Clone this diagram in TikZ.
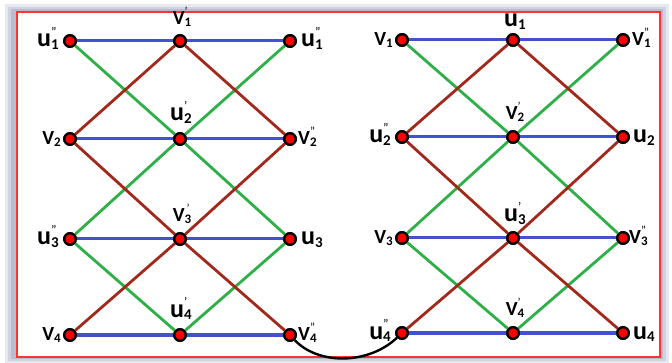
\documentclass[tikz,border=0pt]{standalone}
\usepackage{fontspec}
\setmainfont{Carlito}
\definecolor{eblue}{HTML}{4350D2}
\definecolor{egreen}{HTML}{2EAF48}
\definecolor{ered}{HTML}{A3281C}
\definecolor{shad}{HTML}{A3A9C2}
\newcommand{\ulab}[3]{{\fontsize{26}{26}\selectfont\bfseries #1}\makebox[0pt][l]{\raisebox{-0.45ex}{\fontsize{15}{15}\selectfont\bfseries #2}}\makebox[0pt][l]{\raisebox{2.1ex}{\fontsize{13}{13}\selectfont #3}}\phantom{\fontsize{15}{15}\selectfont\bfseries #2}}
\newcommand{\vlab}[3]{{\fontsize{20}{20}\selectfont\bfseries #1}\makebox[0pt][l]{\raisebox{-0.4ex}{\fontsize{13}{13}\selectfont\bfseries #2}}\makebox[0pt][l]{\raisebox{2.0ex}{\fontsize{12}{12}\selectfont #3}}\phantom{\fontsize{13}{13}\selectfont\bfseries #2}}
\begin{document}
\begin{tikzpicture}[x=1pt,y=-1pt,
  dot/.style={circle,fill=red,draw=black,line width=2.3pt,inner sep=0pt,minimum size=11.5pt},
  bl/.style={eblue,line width=3pt},
  gr/.style={egreen,line width=2.8pt},
  rd/.style={ered,line width=2.8pt},
  lab/.style={inner sep=0pt}]
\useasboundingbox (0,0) rectangle (672,363);
% shadow and frame
\fill[shad,opacity=0.25] (5,4) rectangle (669,363);
\fill[shad,opacity=0.35] (8,7) rectangle (666,361);
\fill[shad,opacity=0.55] (11,9) rectangle (663,359);
\fill[white] (17,12) rectangle (660,357);
\draw[red!80!white,line width=1.5pt] (17,12) rectangle (660,357);
% left graph nodes
\node[dot] (a11) at (70,41) {};
\node[dot] (a12) at (180,41) {};
\node[dot] (a13) at (290,41) {};
\node[dot] (a21) at (70,139) {};
\node[dot] (a22) at (180,139) {};
\node[dot] (a23) at (290,139) {};
\node[dot] (a31) at (70,239) {};
\node[dot] (a32) at (180,239) {};
\node[dot] (a33) at (290,239) {};
\node[dot] (a41) at (70,335) {};
\node[dot] (a42) at (180,335) {};
\node[dot] (a43) at (290,335) {};
% right graph nodes
\node[dot] (b11) at (402,40) {};
\node[dot] (b12) at (513,40) {};
\node[dot] (b13) at (623,40) {};
\node[dot] (b21) at (402,137) {};
\node[dot] (b22) at (513,137) {};
\node[dot] (b23) at (623,137) {};
\node[dot] (b31) at (402,238) {};
\node[dot] (b32) at (513,238) {};
\node[dot] (b33) at (623,238) {};
\node[dot] (b41) at (402,333) {};
\node[dot] (b42) at (513,333) {};
\node[dot] (b43) at (623,333) {};
% edges
\foreach \r in {1,2,3,4}{
  \draw[bl] (a\r1) -- (a\r2) -- (a\r3);
  \draw[bl] (b\r1) -- (b\r2) -- (b\r3);
}
\draw[gr] (a11) -- (a22) -- (a13);
\draw[gr] (a22) -- (a31) -- (a42) -- (a33) -- (a22);
\draw[rd] (a12) -- (a21) -- (a32) -- (a23) -- (a12);
\draw[rd] (a32) -- (a41);
\draw[rd] (a32) -- (a43);
\draw[gr] (b11) -- (b22) -- (b13);
\draw[gr] (b22) -- (b31) -- (b42) -- (b33) -- (b22);
\draw[rd] (b12) -- (b21) -- (b32) -- (b23) -- (b12);
\draw[rd] (b32) -- (b41);
\draw[rd] (b32) -- (b43);
\draw[black,line width=2.4pt] (a43) .. controls (318,365) and (368,365) .. (b41);
% redraw dots on top
\foreach \n in {a11,a12,a13,a21,a22,a23,a31,a32,a33,a41,a42,a43,b11,b12,b13,b21,b22,b23,b31,b32,b33,b41,b42,b43}{
  \node[dot] at (\n) {};
}
% left labels
\node[lab,anchor=base east] (la11) at (59,47) {\ulab{u}{1}{"}};
\node[lab,anchor=base] (la12) at (182,25) {\vlab{V}{1}{'}};
\node[lab,anchor=base west] (la13) at (301,47) {\ulab{u}{1}{"}};
\node[lab,anchor=base east] (la21) at (61,145) {\vlab{V}{2}{}};
\node[lab,anchor=base] (la22) at (181,121) {\ulab{u}{2}{'}};
\node[lab,anchor=base west] (la23) at (298,145) {\vlab{V}{2}{"}};
\node[lab,anchor=base east] (la31) at (59,245) {\ulab{u}{3}{"}};
\node[lab,anchor=base] (la32) at (182,222) {\vlab{V}{3}{\,'}};
\node[lab,anchor=base west] (la33) at (301,245) {\ulab{u}{3}{}};
\node[lab,anchor=base east] (la41) at (61,341) {\vlab{V}{4}{}};
\node[lab,anchor=base] (la42) at (181,317) {\ulab{u}{4}{'}};
\node[lab,anchor=base west] (la43) at (298,341) {\vlab{V}{4}{"}};
% right labels
\node[lab,anchor=base east] (lb11) at (393,46) {\vlab{V}{1}{}};
\node[lab,anchor=base] (lb12) at (515,27) {\ulab{u}{1}{}};
\node[lab,anchor=base west] (lb13) at (632,46) {\vlab{V}{1}{"}};
\node[lab,anchor=base east] (lb21) at (391,143) {\ulab{u}{2}{"}};
\node[lab,anchor=base] (lb22) at (515,120) {\vlab{V}{2}{'}};
\node[lab,anchor=base west] (lb23) at (633,143) {\ulab{u}{2}{}};
\node[lab,anchor=base east] (lb31) at (393,244) {\vlab{V}{3}{}};
\node[lab,anchor=base] (lb32) at (515,222) {\ulab{u}{3}{'}};
\node[lab,anchor=base west] (lb33) at (629,244) {\vlab{V}{3}{"}};
\node[lab,anchor=base east] (lb41) at (391,339) {\ulab{u}{4}{"}};
\node[lab,anchor=base] (lb42) at (515,316) {\vlab{V}{4}{'}};
\node[lab,anchor=base west] (lb43) at (633,339) {\ulab{u}{4}{}};
\end{tikzpicture}
\end{document}
